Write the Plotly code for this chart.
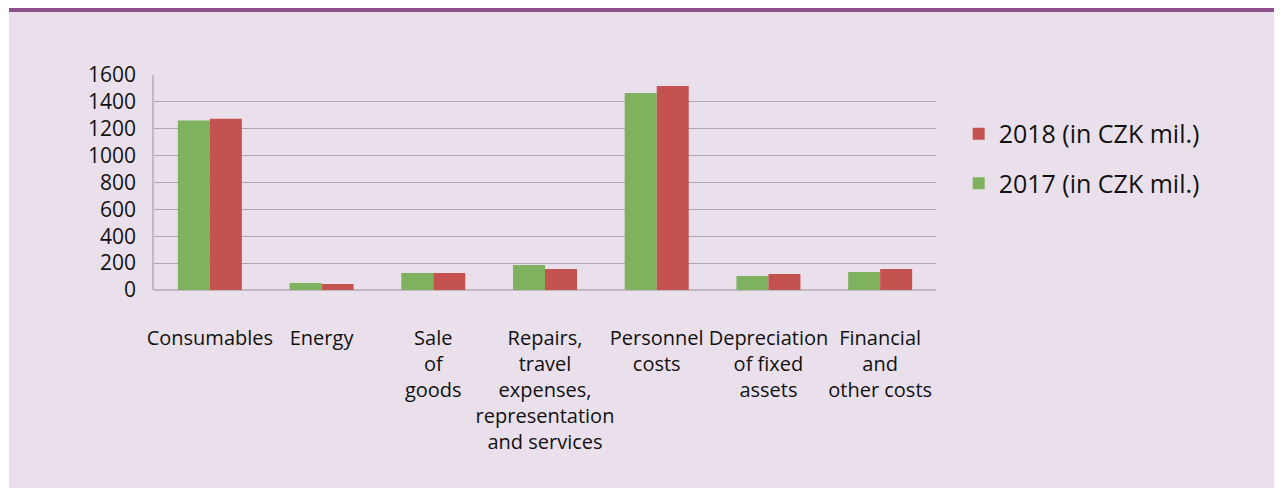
import plotly.graph_objects as go

categories = [
    "Consumables",
    "Energy",
    "Sale<br>of<br>goods",
    "Repairs,<br>travel<br>expenses,<br>representation<br>and services",
    "Personnel<br>costs",
    "Depreciation<br>of fixed<br>assets",
    "Financial<br>and<br>other costs",
]
values_2017 = [1262, 52, 127, 186, 1466, 104, 134]
values_2018 = [1275, 45, 127, 156, 1518, 119, 156]
series_names = ["2017 (in CZK mil.)", "2018 (in CZK mil.)"]
y_ticks = [0, 200, 400, 600, 800, 1000, 1200, 1400, 1600]

GREEN = "#7FB25F"
RED = "#C4524F"
BG = "#EAE0EC"
PURPLE = "#8F4F8C"
FONT = "Open Sans"

fig = go.Figure()
fig.add_trace(go.Bar(x=categories, y=values_2017, name=series_names[0],
                     marker=dict(color=GREEN, line=dict(width=0)),
                     legendgroup="a", legendrank=2))
fig.add_trace(go.Bar(x=categories, y=values_2018, name=series_names[1],
                     marker=dict(color=RED, line=dict(width=0)),
                     legendgroup="b", legendrank=1))

# page is offset by the browser's default 8px body margin
W, H = 1274, 480
L, R, T, B = 146, 346, 67, 198
PW, PH = W - L - R, H - T - B


def px(x):
    return (x - L) / PW


def py(y):
    return (H - B - y) / PH


fig.update_layout(
    width=W, height=H,
    margin=dict(l=L, r=R, t=T, b=B),
    paper_bgcolor="white",
    plot_bgcolor="rgba(0,0,0,0)",
    barmode="group",
    bargap=0.427,
    bargroupgap=0,
    font=dict(family=FONT, size=20, color="#111111"),
    showlegend=True,
    legend=dict(
        x=1.029, xanchor="left",
        y=0.833, yanchor="top",
        traceorder="grouped",
        tracegroupgap=14,
        font=dict(family=FONT, size=25, color="#111111"),
        bgcolor="rgba(0,0,0,0)",
        itemwidth=30,
    ),
    xaxis=dict(
        type="category",
        showgrid=False,
        showline=False,
        zeroline=False,
        ticks="",
        tickangle=0,
        ticklabelstandoff=34,
        tickfont=dict(family=FONT, size=20, color="#111111"),
    ),
    yaxis=dict(
        range=[0, 1600],
        tickvals=y_ticks,
        ticktext=[str(v) for v in y_ticks],
        showgrid=True,
        gridcolor="#ADA8B0",
        gridwidth=1.4,
        zeroline=True,
        zerolinecolor="#BFBAC2",
        zerolinewidth=2,
        showline=True,
        linecolor="#BFBAC2",
        linewidth=1.5,
        ticks="",
        ticklabelstandoff=12,
        tickfont=dict(family=FONT, size=21, color="#111111"),
    ),
    shapes=[
        dict(type="rect", xref="paper", yref="paper", layer="below",
             x0=px(1), x1=px(W + 2), y0=py(H + 2), y1=py(4),
             fillcolor=BG, line=dict(width=0)),
        dict(type="rect", xref="paper", yref="paper", layer="below",
             x0=px(1), x1=px(W + 2), y0=py(4), y1=py(-1),
             fillcolor=PURPLE, line=dict(width=0)),
    ],
)

fig.write_html("out.html")
